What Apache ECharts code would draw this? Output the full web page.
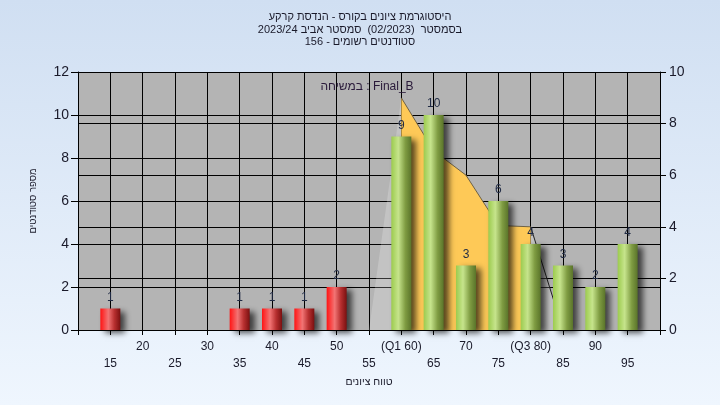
<!DOCTYPE html>
<html>
<head>
<meta charset="utf-8">
<script src="https://cdn.jsdelivr.net/npm/echarts@6/dist/echarts.min.js"></script>
<style>html,body{margin:0;padding:0;}#c{width:720px;height:405px;}</style>
</head>
<body>
<div id="c"></div>
<script>
// ---- data ----
const gradeBins = [15, 35, 40, 45, 50, 60, 65, 70, 75, 80, 85, 90, 95];
const studentCounts = [1, 1, 1, 1, 2, 9, 10, 3, 6, 4, 3, 2, 4];
const passThreshold = 55;
const curveLeftX = [55, 60];
const curveLeftY = [0, 9];
const curveMidX = [60, 65, 70, 75, 80];
const curveMidY = [9, 6.95, 6, 4.05, 4];
const curveRightX = [80, 85];
const curveRightY = [4, 0];
const xTickValues = [15, 20, 25, 30, 35, 40, 45, 50, 55, 60, 65, 70, 75, 80, 85, 90, 95];
const xTickLabels = ['15', '20', '25', '30', '35', '40', '45', '50', '55', '(Q1 60)', '65', '70', '75', '(Q3 80)', '85', '90', '95'];
const titleLines = [
  'היסטוגרמת ציונים בקורס - הנדסת קרקע',
  'בסמסטר  (02/2023)  סמסטר אביב 2023/24',
  'סטודנטים רשומים - 156'
];
const noteText = 'במשיחה : Final_B';
const xName = 'טווח ציונים';
const yName = 'מספר סטודנטים';

const FONT = '"Liberation Sans", Arial, "DejaVu Sans", sans-serif';

function pair(xs, ys) { return xs.map((x, i) => [x, ys[i]]); }

const redGrad = { type: 'linear', x: 0, y: 0, x2: 1, y2: 0, colorStops: [
  { offset: 0, color: '#ff1414' }, { offset: 0.4, color: '#f27474' },
  { offset: 0.7, color: '#b83030' }, { offset: 1, color: '#7a1010' }] };
const greenGrad = { type: 'linear', x: 0, y: 0, x2: 1, y2: 0, colorStops: [
  { offset: 0, color: '#9ccb4e' }, { offset: 0.35, color: '#c6e48c' },
  { offset: 0.7, color: '#7f9c42' }, { offset: 1, color: '#5a742a' }] };

const barData = gradeBins.map((g, i) => ({
  value: [g, studentCounts[i]],
  itemStyle: { color: g < passThreshold ? redGrad : greenGrad }
}));

const chart = echarts.init(document.getElementById('c'));
chart.setOption({
  animation: false,
  backgroundColor: { type: 'linear', x: 0, y: 0, x2: 0, y2: 1, colorStops: [
    { offset: 0, color: '#d0dff2' }, { offset: 1, color: '#eff6fe' }] },
  title: {
    text: titleLines.join('\n'),
    left: 'center', top: 11, padding: 0,
    textStyle: { fontFamily: FONT, fontSize: 11, fontWeight: 'normal', color: '#1a1a2a', lineHeight: 12.5 }
  },
  graphic: [{
    type: 'text', x: 367, y: 86.5,
    style: { text: noteText, fontFamily: FONT, fontSize: 12, fill: '#2a1a3a', textAlign: 'center', textVerticalAlign: 'middle' },
    z: 10
  }],
  grid: { left: 78, right: 60, top: 72, bottom: 75, show: true, backgroundColor: '#b4b4b4', borderWidth: 0 },
  xAxis: {
    type: 'value', min: 10, max: 100, interval: 5,
    name: xName, nameLocation: 'middle', nameGap: 44,
    nameTextStyle: { fontFamily: FONT, fontSize: 10.5, color: '#1a1a2a' },
    axisLine: { show: true, lineStyle: { color: '#000', width: 1 } },
    axisTick: { show: true, length: 5, lineStyle: { color: '#000' } },
    splitLine: { show: true, lineStyle: { color: '#000', width: 1 } },
    axisLabel: {
      fontFamily: FONT, fontSize: 12, color: '#1a1a2a', margin: 8, lineHeight: 17,
      formatter: function (v) {
        const i = xTickValues.indexOf(v);
        if (i < 0) return '';
        return (v % 10 === 5 ? '\n' : '') + xTickLabels[i];
      }
    }
  },
  yAxis: [{
    type: 'value', min: 0, max: 12, interval: 2, position: 'left',
    name: yName, nameLocation: 'middle', nameGap: 40,
    nameTextStyle: { fontFamily: FONT, fontSize: 9.5, color: '#1a1a2a' },
    axisLine: { show: true, lineStyle: { color: '#000' } },
    axisTick: { show: true, length: 7, lineStyle: { color: '#000' } },
    splitLine: { show: true, lineStyle: { color: '#000', width: 1 } },
    axisLabel: { fontFamily: FONT, fontSize: 14, color: '#1a1a2a', margin: 9 }
  }, {
    type: 'value', min: 0, max: 10, interval: 2, position: 'right',
    axisLine: { show: true, lineStyle: { color: '#000' } },
    axisTick: { show: true, length: 6, lineStyle: { color: '#000' } },
    splitLine: { show: true, lineStyle: { color: '#000', width: 1 } },
    axisLabel: { fontFamily: FONT, fontSize: 14, color: '#1a1a2a', margin: 9 }
  }],
  series: [{
    type: 'line', yAxisIndex: 1, data: pair(curveLeftX, curveLeftY), symbol: 'none', z: 2,
    lineStyle: { width: 0 }, areaStyle: { color: 'rgba(255,255,255,0.2)', opacity: 1 }
  }, {
    type: 'line', yAxisIndex: 1, data: pair(curveMidX, curveMidY), symbol: 'none', z: 2,
    lineStyle: { width: 1, color: '#6e6246' }, areaStyle: { color: '#fec957', opacity: 1 }
  }, {
    type: 'line', yAxisIndex: 1, data: pair(curveRightX, curveRightY), symbol: 'none', z: 2,
    lineStyle: { width: 1, color: '#202020' }, areaStyle: { color: 'rgba(255,255,255,0.2)', opacity: 1 }
  }, {
    type: 'bar', yAxisIndex: 0, barWidth: 20, z: 3, data: barData,
    itemStyle: { shadowColor: 'rgba(0,0,0,0.65)', shadowBlur: 6, shadowOffsetX: 5, shadowOffsetY: 3 },
    label: { show: true, position: 'top', distance: 5, fontFamily: FONT, fontSize: 12, color: '#1f2a44' }
  }]
});
</script>
</body>
</html>
